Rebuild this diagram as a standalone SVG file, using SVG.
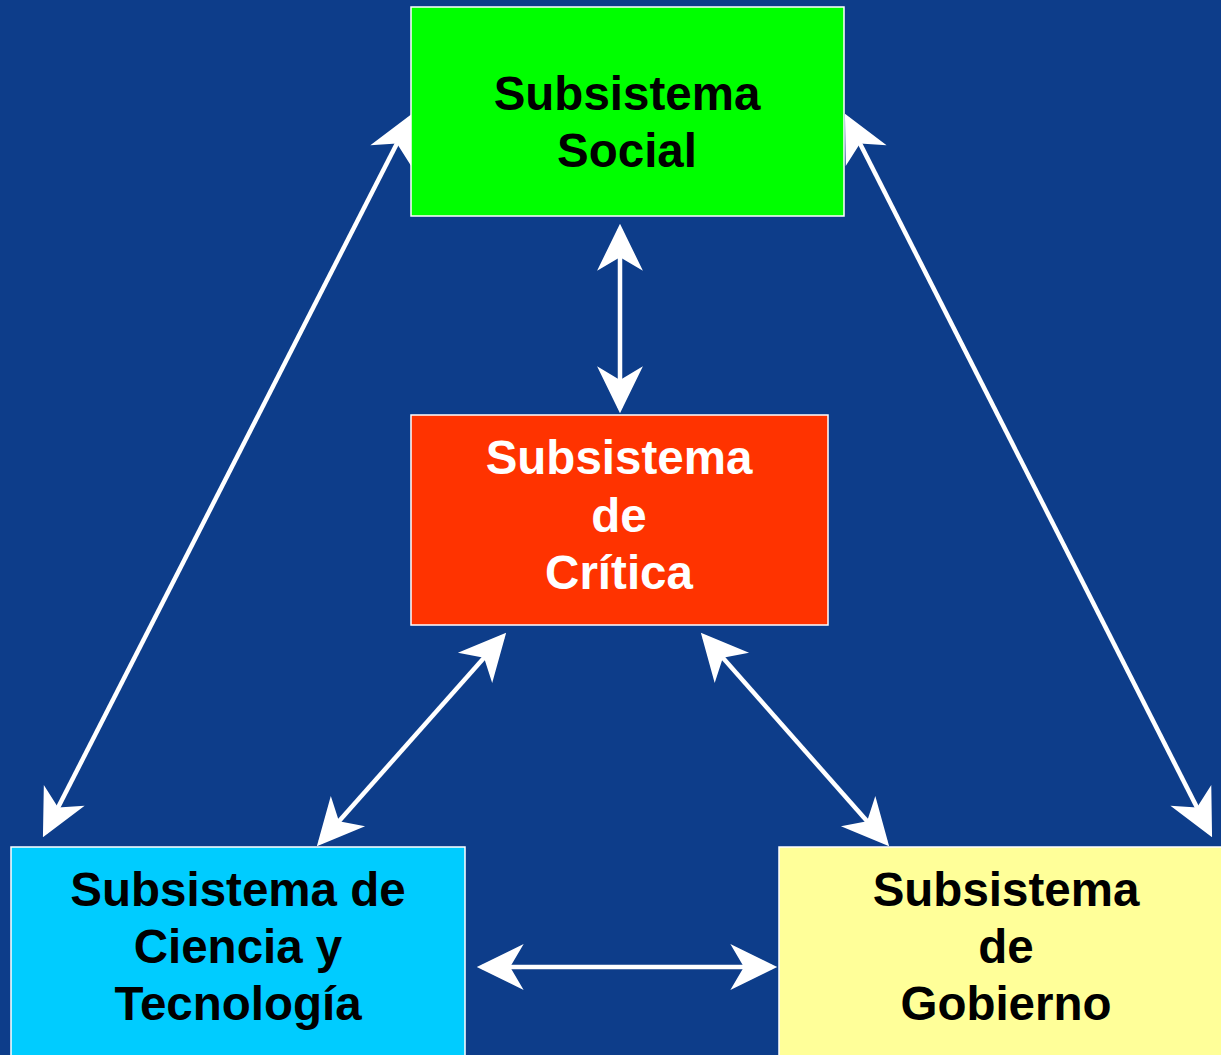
<svg xmlns="http://www.w3.org/2000/svg" width="1221" height="1055" viewBox="0 0 1221 1055">
<defs>
<style>
.box{stroke:#ffffff;stroke-width:1.5}
.t{font-family:"Liberation Sans",Arial,sans-serif;font-weight:bold;font-size:47.5px;text-anchor:middle}
.c{stroke:#ffffff;stroke-width:4.5;fill:none;marker-start:url(#ah);marker-end:url(#ah)}
</style>
<marker id="ah" markerUnits="userSpaceOnUse" markerWidth="50" markerHeight="50" viewBox="-46 -23 48 46" refX="-5" refY="0" orient="auto-start-reverse">
<path d="M0,0 L-45,-22 L-32,0 L-45,22 Z" fill="#ffffff"/>
</marker>
</defs>
<rect width="1221" height="1055" fill="#0D3D8A"/>
<g id="connectors">
<line class="c" x1="620" y1="229" x2="620" y2="408"/>
<line class="c" x1="409.7" y1="118.5" x2="45.3" y2="832.5"/>
<line class="c" x1="847.3" y1="118.5" x2="1209.7" y2="832.5"/>
<line class="c" x1="502.7" y1="636.7" x2="320.3" y2="842.3"/>
<line class="c" x1="704.3" y1="636.7" x2="885.7" y2="842.3"/>
<line class="c" x1="482" y1="967" x2="772" y2="967"/>
</g>
<g id="social">
<rect class="box" x="411" y="7" width="433" height="209" fill="#00FF00"/>
<text class="t" fill="#000000"><tspan x="627" y="110">Subsistema</tspan><tspan x="627" y="167">Social</tspan></text>
</g>
<g id="critica">
<rect class="box" x="411" y="415" width="417" height="210" fill="#FF3300"/>
<text class="t" fill="#ffffff"><tspan x="619" y="474">Subsistema</tspan><tspan x="619" y="532">de</tspan><tspan x="619" y="589">Crítica</tspan></text>
</g>
<g id="ciencia">
<rect class="box" x="11" y="847" width="454" height="212" fill="#00CCFF"/>
<text class="t" fill="#000000"><tspan x="238" y="906">Subsistema de</tspan><tspan x="238" y="963">Ciencia y</tspan><tspan x="238" y="1020">Tecnología</tspan></text>
</g>
<g id="gobierno">
<rect class="box" x="779" y="847" width="446" height="212" fill="#FFFF99"/>
<text class="t" fill="#000000"><tspan x="1006" y="906">Subsistema</tspan><tspan x="1006" y="963">de</tspan><tspan x="1006" y="1020">Gobierno</tspan></text>
</g>
</svg>
